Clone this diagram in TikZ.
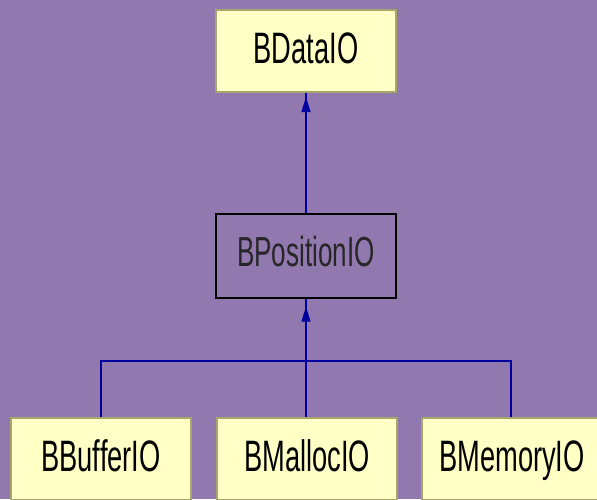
\documentclass[tikz,border=0pt]{standalone}
\usepackage{fontspec}
\setmainfont{Liberation Sans}
\newfontfamily\narrowfont[FakeStretch=0.62]{Liberation Sans}
\usetikzlibrary{arrows.meta}
\definecolor{bgpurple}{HTML}{9179B0}
\definecolor{boxyellow}{HTML}{FFFFC6}
\definecolor{boxedge}{HTML}{A6A66A}
\definecolor{linkblue}{HTML}{0000A0}
\tikzset{
  classbox/.style={draw=boxedge, line width=2pt, fill=boxyellow, minimum width=180pt, minimum height=82pt, inner sep=0pt, text height=24pt, text depth=0pt, font=\narrowfont\fontsize{44}{44}\selectfont, text=black},
  abstractbox/.style={draw=black, line width=1.3pt, minimum width=180pt, minimum height=84pt, inner sep=0pt, text height=20pt, text depth=0pt, font=\narrowfont\fontsize{42}{42}\selectfont, text=black!85},
  link/.style={draw=linkblue, line width=1.2pt},
  inherit/.style={draw=linkblue, line width=1.2pt, -{Triangle[width=9pt,length=15pt]}, fill=linkblue}
}
\begin{document}
\begin{tikzpicture}[x=1pt,y=-1pt]
\fill[bgpurple] (0,0) rectangle (597,499);
\useasboundingbox (0,0) rectangle (597,499);
\clip (0,0) rectangle (597,499);
\node[classbox] (data) at (306,51) {BDataIO};
\node[abstractbox] (pos) at (306,256) {BPositionIO};
\node[classbox, anchor=north west] (buf) at (10,417) {BBufferIO};
\node[classbox, anchor=north west] (mal) at (216,417) {BMallocIO};
\node[classbox, anchor=north west] (mem) at (421,417) {BMemoryIO};
\coordinate (junc) at (pos.south |- 0,361);
% link BPositionIO -> BDataIO
\draw[link] (pos.north) -- (data.south);
\draw[inherit] ([yshift=-20pt]data.south) -- ([yshift=-4pt]data.south);
% links children -> BPositionIO
\draw[link] (pos.south) -- (junc);
\draw[inherit] ([yshift=-23pt]pos.south) -- ([yshift=-8pt]pos.south);
\draw[link] (buf.north -| 101,0) |- (junc);
\draw[link] (mal.north -| junc) -- (junc);
\draw[link] (mem.north -| 511,0) |- (junc);
\end{tikzpicture}
\end{document}
